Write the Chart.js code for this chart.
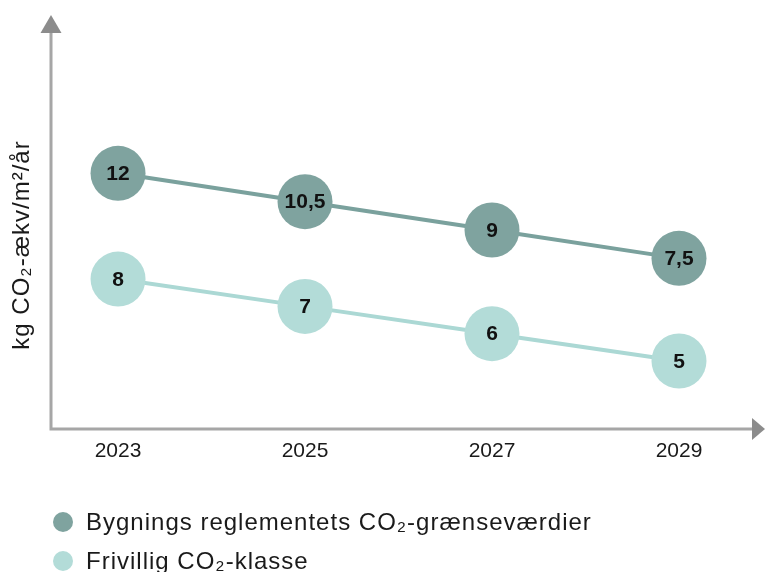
<!DOCTYPE html>
<html>
<head>
<meta charset="utf-8">
<script src="https://cdn.jsdelivr.net/npm/chart.js"></script>
<style>
html, body { margin: 0; padding: 0; background: #fff; overflow: hidden; }
#wrap { width: 765px; height: 572px; position: relative; }
</style>
</head>
<body>
<div id="wrap"><canvas id="graf"></canvas></div>
<script>
// Data
const aar = [2023, 2025, 2027, 2029];
const graensevaerdier = [12, 10.5, 9, 7.5];
const frivilligKlasse = [8, 7, 6, 5];
const serieNavne = ["Bygnings reglementets CO₂-grænseværdier", "Frivillig CO₂-klasse"];
const yTitel = "kg CO₂-ækv/m²/år";

const moerk = '#7fa39f';
const lys = '#b3dcd8';
const skrift = '"Liberation Sans", Arial, sans-serif';

// akser med pile, y-titel, værdier i punkterne og forklaring
const akserPlugin = {
    id: 'akser',
    beforeDatasetsDraw(chart) {
        const ctx = chart.ctx;
        const a = chart.chartArea;
        ctx.save();
        ctx.strokeStyle = '#a6a6a6';
        ctx.lineWidth = 3;
        ctx.beginPath();
        ctx.moveTo(a.left, a.bottom);
        ctx.lineTo(a.left, a.top + 16);
        ctx.moveTo(a.left - 1.5, a.bottom);
        ctx.lineTo(a.right - 12, a.bottom);
        ctx.stroke();

        ctx.fillStyle = '#8c8c8c';
        ctx.beginPath();
        ctx.moveTo(a.left, a.top);
        ctx.lineTo(a.left - 10.5, a.top + 18);
        ctx.lineTo(a.left + 10.5, a.top + 18);
        ctx.closePath();
        ctx.fill();
        ctx.beginPath();
        ctx.moveTo(a.right, a.bottom);
        ctx.lineTo(a.right - 13, a.bottom - 11);
        ctx.lineTo(a.right - 13, a.bottom + 11);
        ctx.closePath();
        ctx.fill();

        ctx.translate(22, 245);
        ctx.rotate(-Math.PI / 2);
        ctx.fillStyle = '#1a1a1a';
        ctx.font = '24px ' + skrift;
        ctx.letterSpacing = '1px';
        ctx.textAlign = 'center';
        ctx.textBaseline = 'middle';
        ctx.fillText(yTitel, 0, 0);
        ctx.restore();
    },
    afterDatasetsDraw(chart) {
        const ctx = chart.ctx;
        ctx.save();
        ctx.fillStyle = '#111';
        ctx.font = 'bold 21px ' + skrift;
        ctx.textAlign = 'center';
        ctx.textBaseline = 'middle';
        chart.data.datasets.forEach((ds, i) => {
            chart.getDatasetMeta(i).data.forEach((pt, j) => {
                const v = ds.data[j].y;
                ctx.fillText(String(v).replace('.', ','), pt.x, pt.y + 1);
            });
        });

        // forklaring
        ctx.font = '24px ' + skrift;
        ctx.letterSpacing = '1px';
        ctx.textAlign = 'left';
        ctx.fillStyle = '#1a1a1a';
        chart.data.datasets.forEach((ds, i) => {
            const y = 522 + i * 39;
            ctx.beginPath();
            ctx.arc(63, y, 10, 0, Math.PI * 2);
            ctx.fillStyle = ds.pointBackgroundColor;
            ctx.fill();
            ctx.fillStyle = '#1a1a1a';
            ctx.fillText(ds.label, 86, y + 1);
        });
        ctx.restore();
    }
};

const punkter = (vals) => vals.map((v, i) => ({ x: aar[i], y: v }));

new Chart(document.getElementById('graf'), {
    type: 'line',
    data: {
        datasets: [
            {
                label: serieNavne[0],
                data: punkter(graensevaerdier),
                yAxisID: 'y2',
                borderColor: '#7aa19d',
                backgroundColor: moerk,
                pointBackgroundColor: moerk,
                pointBorderWidth: 0,
                pointRadius: 27.5,
                pointHoverRadius: 27.5,
                borderWidth: 4,
                clip: false
            },
            {
                label: serieNavne[1],
                data: punkter(frivilligKlasse),
                yAxisID: 'y',
                borderColor: '#abd8d4',
                backgroundColor: lys,
                pointBackgroundColor: lys,
                pointBorderWidth: 0,
                pointRadius: 27.5,
                pointHoverRadius: 27.5,
                borderWidth: 4,
                clip: false
            }
        ]
    },
    options: {
        responsive: true,
        maintainAspectRatio: false,
        animation: false,
        events: [],
        layout: { autoPadding: false, padding: { top: 15, right: 0, bottom: 78, left: 0 } },
        scales: {
            x: {
                type: 'linear',
                min: 2022.283,
                max: 2029.92,
                grid: { display: false, drawTicks: false },
                border: { display: false },
                afterBuildTicks: (s) => { s.ticks = aar.map(v => ({ value: v })); },
                afterFit: (s) => { s.height = 65; },
                ticks: {
                    padding: 10,
                    color: '#1a1a1a',
                    font: { family: skrift, size: 21 },
                    callback: (v) => String(v)
                }
            },
            y: {
                min: 2.51,
                max: 17.67,
                grid: { display: false, drawTicks: false },
                border: { display: false },
                ticks: { display: false },
                afterFit: (s) => { s.width = 51; }
            },
            y2: {
                display: false,
                min: -1.53,
                max: 20.38
            }
        },
        plugins: {
            tooltip: { enabled: false },
            legend: { display: false }
        }
    },
    plugins: [akserPlugin]
});
</script>
</body>
</html>
